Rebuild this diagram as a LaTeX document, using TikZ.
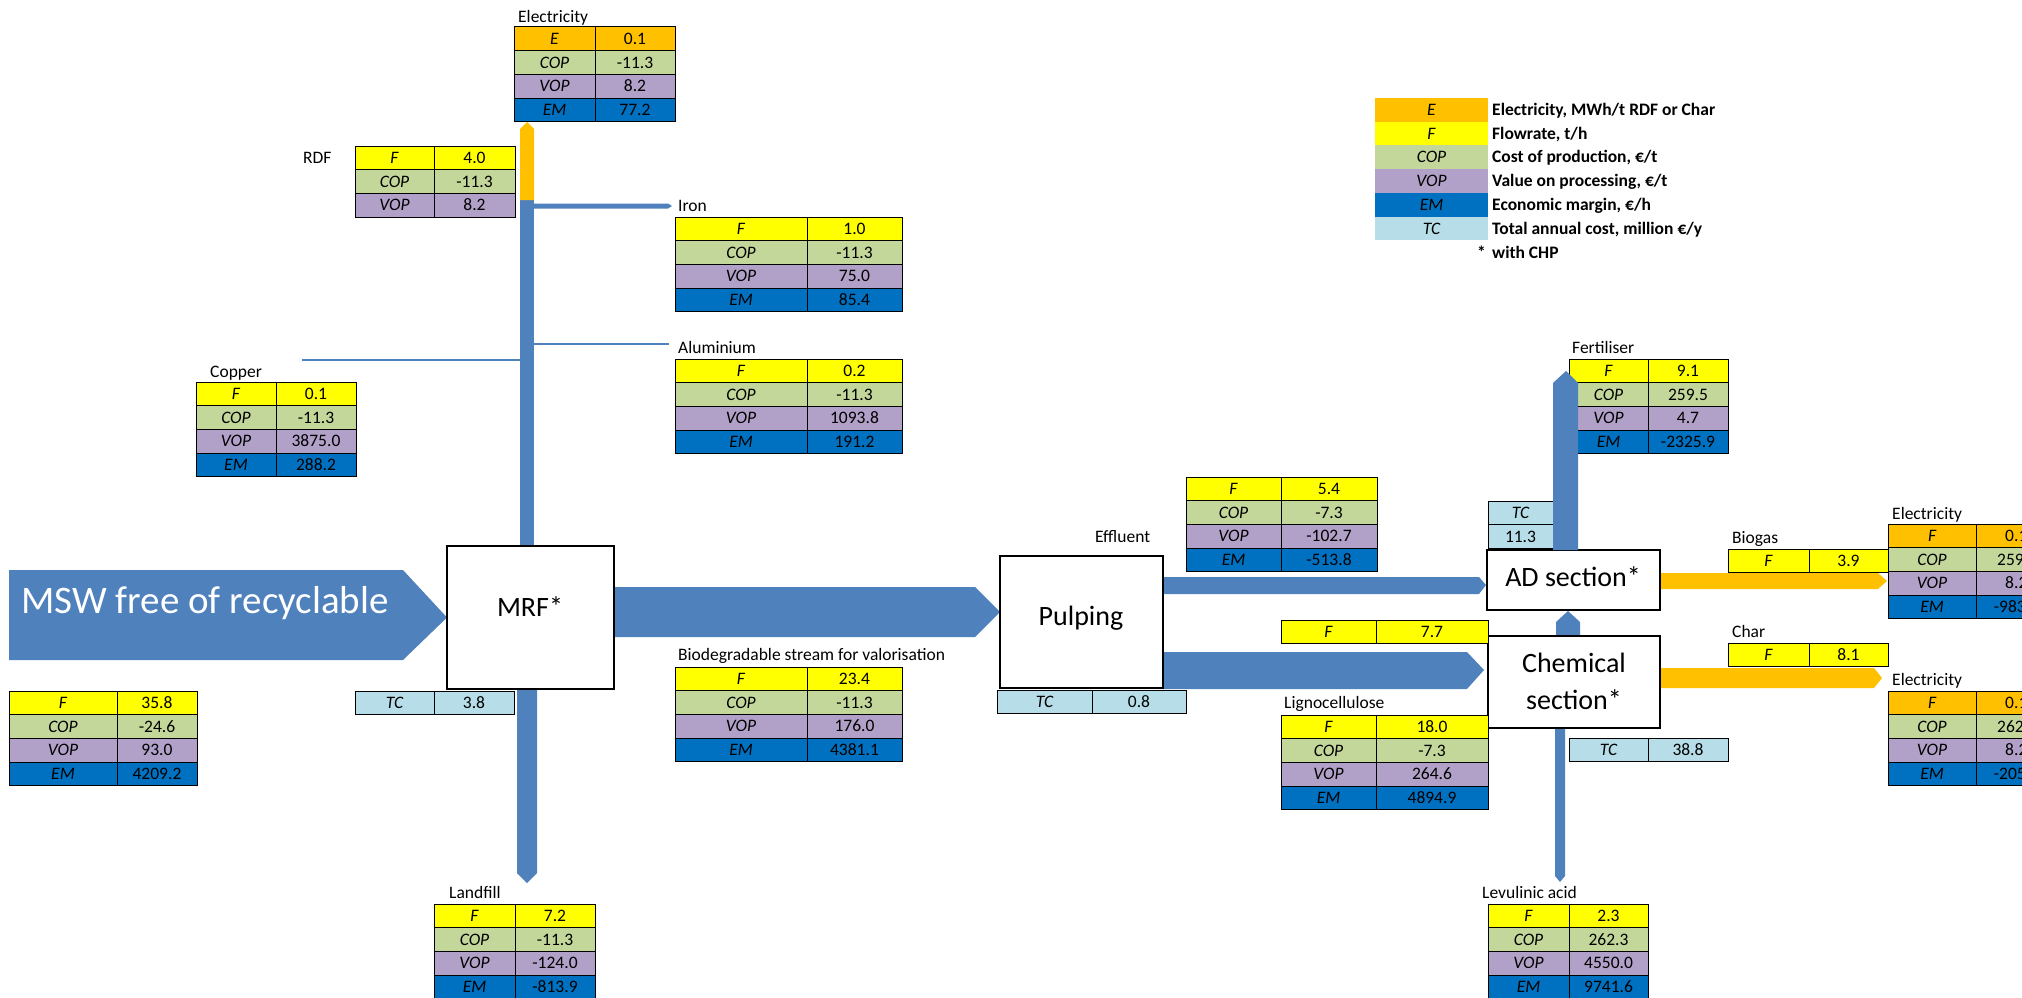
\documentclass[tikz,border=0pt]{standalone}
\usepackage{fontspec}
\setmainfont{Carlito}
\usetikzlibrary{calc}
\definecolor{cE}{HTML}{FFC000}
\definecolor{cF}{HTML}{FFFF00}
\definecolor{cCOP}{HTML}{C4D79B}
\definecolor{cVOP}{HTML}{B1A0C7}
\definecolor{cEM}{HTML}{0070C0}
\definecolor{cTC}{HTML}{B7DEE8}
\definecolor{flowblue}{HTML}{4F81BD}
\newcommand\tfont{\fontsize{17.5}{21}\selectfont}
\tikzset{
  cellbox/.style={draw=black, line width=1pt, inner sep=0pt, outer sep=0pt, text height=11.3pt, text depth=0pt, font=\tfont, anchor=north west, minimum height=23.7pt},
  legcell/.style={cellbox, draw=none},
  lbl/.style={anchor=west, inner sep=0pt, text height=11.3pt, text depth=0pt, font=\tfont},
  lblb/.style={lbl, font=\tfont\bfseries},
  boxshape/.style={inner sep=0pt, outer sep=0pt},
  procline/.style={draw=black, line width=1.6pt, fill=white},
  boxtxt/.style={inner sep=0pt, font=\fontsize{28}{37}\selectfont, align=center},
  flowb/.style={fill=flowblue},
  flowo/.style={fill=cE},
  thinflow/.style={draw=flowblue, line width=1.2pt},
}
\newcommand\trow[8]{%
  \node[cellbox, fill=#6, minimum width={(#3-#2)*1pt}] (#1l) at (#2,{#5}) {\itshape #7};
  \node[cellbox, fill=#6, minimum width={(#4-#3)*1pt}] (#1v) at (#3,{#5}) {#8};}
\newcommand\ftab[9]{%
  \trow{#1F}{#2}{#3}{#4}{#5}{cF}{F}{#6}
  \trow{#1C}{#2}{#3}{#4}{#5+23.7}{cCOP}{COP}{#7}
  \trow{#1V}{#2}{#3}{#4}{#5+47.4}{cVOP}{VOP}{#8}
  \trow{#1M}{#2}{#3}{#4}{#5+71.1}{cEM}{EM}{#9}}
\begin{document}
\begin{tikzpicture}[x=1pt,y=-1pt]
\useasboundingbox (0,0) rectangle (2022,998);
\fill[white] (0,0) rectangle (2022,998);
% process boxes (geometry only)
\node[boxshape, minimum width=167pt, minimum height=143pt] (mrf) at (530.5,617.5) {};
\node[boxshape, minimum width=163pt, minimum height=132pt] (pulp) at (1081.5,622) {};
\node[boxshape, minimum width=173pt, minimum height=60pt] (ad) at (1573.5,580) {};
\node[boxshape, minimum width=172pt, minimum height=92pt] (chem) at (1574,682) {};
% flows
\fill[flowb] (9,570) -- (403,570) -- (mrf.west) -- (403,660) -- (9,660) -- cycle;
\fill[flowb] ($(mrf.north)+(-10.5,0)$) rectangle (534,200);
\fill[flowo] (520,200) -- (520,129) -- (527,122) -- (534,129) -- (534,200) -- cycle;
\fill[flowb] (534,203.5) -- (668,203.5) -- (672,206) -- (668,208.5) -- (534,208.5) -- cycle;
\coordinate (aluend) at (669,344);
\coordinate (custart) at (302,360);
\draw[thinflow] (534,344) -- (aluend);
\draw[thinflow] (custart) -- (520,360);
\fill[flowb] ($(mrf.south)+(-13.5,0)$) -- (517,873) -- (527,883) -- (537,873) -- ($(mrf.south)+(6.5,0)$) -- cycle;
\fill[flowb] ($(mrf.east)+(0,-30.5)$) -- (975,587) -- ($(pulp.west)+(0,-10)$) -- (975,637) -- ($(mrf.east)+(0,19.5)$) -- cycle;
\fill[flowb] ($(pulp.east)+(0,-45)$) -- (1479,577) -- ($(ad.west)+(-1,5)$) -- (1479,594) -- ($(pulp.east)+(0,-28)$) -- cycle;
\fill[flowb] ($(pulp.east)+(0,30)$) -- (1467,652) -- ($(chem.west)+(-4,-12)$) -- (1467,689) -- ($(pulp.east)+(0,67)$) -- cycle;
\fill[flowb] ($(chem.north)+(-18,0)$) -- (1556,622) -- ($(ad.south)+(-5.5,1)$) -- (1580,622) -- ($(chem.north)+(6,0)$) -- cycle;
\fill[flowb] ($(chem.south)+(-19,0)$) -- (1555,876) -- (1560,882) -- (1565,876) -- ($(chem.south)+(-9,0)$) -- cycle;
\fill[flowo] ($(ad.east)+(0,-7)$) -- (1878,573) -- (1887,581) -- (1878,589) -- ($(ad.east)+(0,9)$) -- cycle;
\fill[flowo] ($(chem.east)+(0,-14)$) -- (1874,668) -- (1882,678) -- (1874,688) -- ($(chem.east)+(0,6)$) -- cycle;
% boxes drawn
\draw[procline] (mrf.north west) rectangle (mrf.south east);
\draw[procline] (pulp.north west) rectangle (pulp.south east);
\draw[procline] (ad.north west) rectangle (ad.south east);
\draw[procline] (chem.north west) rectangle (chem.south east);
\node[boxtxt, text height=18pt, text depth=0pt] (mrfT) at (530,607) {MRF*};
\node[boxtxt, text height=18pt, text depth=0pt] (pulpT) at (1081,616) {Pulping};
\node[boxtxt, text height=18pt, text depth=0pt] (adT) at (1573,577) {AD section*};
\node[boxtxt] (chemT) at (1574,681) {Chemical\\section*};
\node[anchor=base west, inner sep=0pt, text=white, font=\fontsize{39}{45}\selectfont] (msw) at (21,613) {MSW free of recyclable};
% tables
\trow{etE}{514}{595}{675}{27}{cE}{E}{0.1}
\trow{etC}{514}{595}{675}{27+23.7}{cCOP}{COP}{-11.3}
\trow{etV}{514}{595}{675}{27+47.4}{cVOP}{VOP}{8.2}
\trow{etM}{514}{595}{675}{27+71.1}{cEM}{EM}{77.2}
\trow{rdfF}{355}{434}{515}{146}{cF}{F}{4.0}
\trow{rdfC}{355}{434}{515}{146+23.7}{cCOP}{COP}{-11.3}
\trow{rdfV}{355}{434}{515}{146+47.4}{cVOP}{VOP}{8.2}
\ftab{iron}{675}{807}{902}{217}{1.0}{-11.3}{75.0}{85.4}
\ftab{alu}{675}{807}{902}{359}{0.2}{-11.3}{1093.8}{191.2}
\ftab{cu}{196}{276}{356}{382}{0.1}{-11.3}{3875.0}{288.2}
\ftab{feed}{9}{117}{197}{691}{35.8}{-24.6}{93.0}{4209.2}
\trow{mrfTC}{355}{434}{514}{691}{cTC}{TC}{3.8}
\ftab{lf}{434}{515}{595}{904}{7.2}{-11.3}{-124.0}{-813.9}
\ftab{bio}{675}{807}{902}{667}{23.4}{-11.3}{176.0}{4381.1}
\trow{pulpTC}{997}{1092}{1186}{690}{cTC}{TC}{0.8}
\ftab{eff}{1186}{1281}{1377}{477}{5.4}{-7.3}{-102.7}{-513.8}
\trow{sss}{1281}{1376}{1488}{620}{cF}{F}{7.7}
\ftab{lig}{1281}{1376}{1488}{715}{18.0}{-7.3}{264.6}{4894.9}
\node[cellbox, fill=cTC, minimum width=65pt] (adTCl) at (1488,501) {\itshape TC};
\node[cellbox, fill=cTC, minimum width=65pt, minimum height=24pt] (adTCv) at (1488,524.7) {11.3};
\ftab{fert}{1569}{1648}{1728}{359}{9.1}{259.5}{4.7}{-2325.9}
\trow{chemTC}{1569}{1648}{1728}{738}{cTC}{TC}{38.8}
\ftab{lev}{1488}{1569}{1648}{904}{2.3}{262.3}{4550.0}{9741.6}
\trow{bgF}{1728}{1809}{1888}{549}{cF}{F}{3.9}
\trow{chF}{1728}{1809}{1888}{643}{cF}{F}{8.1}
\trow{erAE}{1888}{1976}{2066}{524}{cE}{F}{}
\trow{erAC}{1888}{1976}{2066}{524+23.7}{cCOP}{COP}{}
\trow{erAV}{1888}{1976}{2066}{524+47.4}{cVOP}{VOP}{}
\trow{erAM}{1888}{1976}{2066}{524+71.1}{cEM}{EM}{}
\trow{erBE}{1888}{1976}{2066}{691}{cE}{F}{}
\trow{erBC}{1888}{1976}{2066}{691+23.7}{cCOP}{COP}{}
\trow{erBV}{1888}{1976}{2066}{691+47.4}{cVOP}{VOP}{}
\trow{erBM}{1888}{1976}{2066}{691+71.1}{cEM}{EM}{}
\node[lbl] (erAEt) at (2005,535.9) {0.1};
\node[lbl] (erACt) at (1997,559.6) {259};
\node[lbl] (erAVt) at (2005,583.3) {8.2};
\node[lbl, anchor=east] (erAMt) at (2026,607) {-983};
\node[lbl] (erBEt) at (2005,702.9) {0.1};
\node[lbl] (erBCt) at (1997,726.6) {262};
\node[lbl] (erBVt) at (2005,750.3) {8.2};
\node[lbl, anchor=east] (erBMt) at (2026,774) {-205};
% fertiliser flow over its table
\fill[flowb] ($(ad.north)+(-20.5,0)$) -- (1553,383) -- (1566,371) -- (1578,383) -- ($(ad.north)+(4.5,0)$) -- cycle;
% labels
\node[lbl] (lElecT) at (518,17) {Electricity};
\node[lbl] (lRDF) at (303,158) {RDF};
\node[lbl] (lIron) at (678,206) {Iron};
\node[lbl] (lAlu) at (678,348) {Aluminium};
\node[lbl] (lCu) at (210,372) {Copper};
\node[lbl] (lFert) at (1572,348) {Fertiliser};
\node[lbl] (lEff) at (1095,537) {Effluent};
\node[lbl] (lBiogas) at (1732,538) {Biogas};
\node[lbl] (lElecA) at (1892,514) {Electricity};
\node[lbl] (lBio) at (678,655) {Biodegradable stream for valorisation};
\node[lbl] (lChar) at (1732,632) {Char};
\node[lbl] (lElecB) at (1892,680) {Electricity};
\node[lbl] (lLig) at (1284,703) {Lignocellulose};
\node[lbl] (lLand) at (449,893) {Landfill};
\node[lbl] (lLev) at (1482,893) {Levulinic acid};
% legend
\node[legcell, fill=cE, minimum width=113pt] (legE) at (1375,98) {\itshape E};
\node[legcell, fill=cF, minimum width=113pt] (legF) at (1375,98+23.7) {\itshape F};
\node[legcell, fill=cCOP, minimum width=113pt] (legC) at (1375,98+47.4) {\itshape COP};
\node[legcell, fill=cVOP, minimum width=113pt] (legV) at (1375,98+71.1) {\itshape VOP};
\node[legcell, fill=cEM, minimum width=113pt] (legM) at (1375,98+94.8) {\itshape EM};
\node[legcell, fill=cTC, minimum width=113pt] (legT) at (1375,98+118.5) {\itshape TC};
\node[lblb] (legEt) at (1492,109.9) {Electricity, MWh/t RDF or Char};
\node[lblb] (legFt) at (1492,133.6) {Flowrate, t/h};
\node[lblb] (legCt) at (1492,157.3) {Cost of production, €/t};
\node[lblb] (legVt) at (1492,181) {Value on processing, €/t};
\node[lblb] (legMt) at (1492,204.7) {Economic margin, €/h};
\node[lblb] (legTt) at (1492,228.4) {Total annual cost, million €/y};
\node[lblb] (legStar) at (1477,253) {*};
\node[lblb] (legChp) at (1492,253) {with CHP};
\end{tikzpicture}
\end{document}
